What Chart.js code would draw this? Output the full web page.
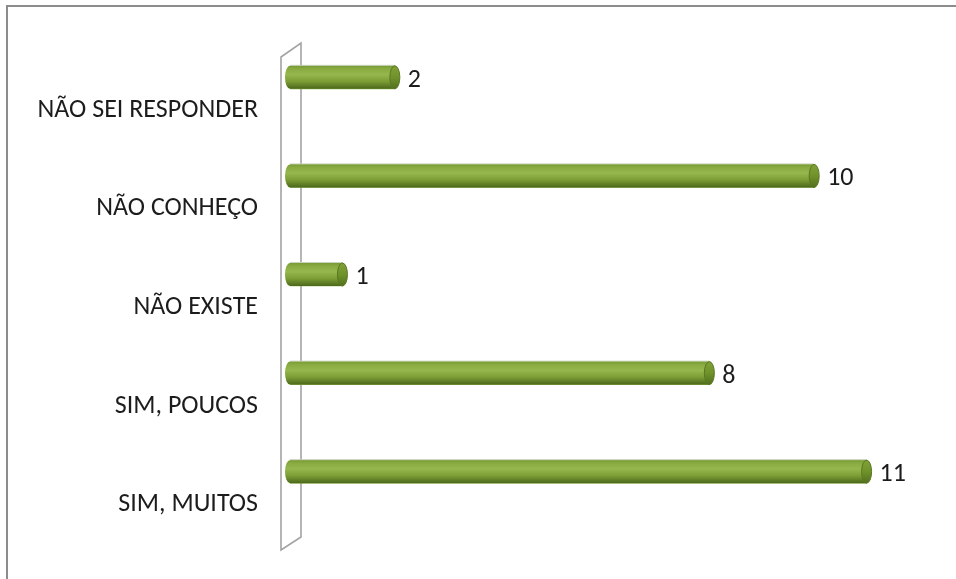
<!DOCTYPE html>
<html>
<head>
<meta charset="utf-8">
<script src="https://cdn.jsdelivr.net/npm/chart.js@4"></script>
<style>
  html, body { margin: 0; padding: 0; background: #ffffff; }
  canvas { display: block; }
</style>
</head>
<body>
<canvas id="chart" width="956" height="579"></canvas>
<script>
// Survey answers, listed top to bottom
const categories = ['NÃO SEI RESPONDER', 'NÃO CONHEÇO', 'NÃO EXISTE', 'SIM, POUCOS', 'SIM, MUITOS'];
const counts = [2, 10, 1, 8, 11];

const FONT = "'Carlito', 'Liberation Sans Narrow', 'Liberation Sans', sans-serif";
const FONT_SIZE = 26;
const CAP_RX = 5; // half-width of the cylinder end ellipses

// White page with the grey frame on top and left
const framePlugin = {
  id: 'frame',
  beforeDraw(chart) {
    const ctx = chart.ctx;
    ctx.save();
    ctx.fillStyle = '#ffffff';
    ctx.fillRect(0, 0, chart.width, chart.height);
    ctx.fillStyle = '#8c8c8c';
    ctx.fillRect(6, 5, chart.width - 6, 2);
    ctx.fillRect(6, 5, 2, chart.height - 5);
    ctx.restore();
  }
};

// Slanted 3D wall behind the bars
const wallPlugin = {
  id: 'wall',
  beforeDatasetsDraw(chart) {
    const { ctx, chartArea: a } = chart;
    const front = a.left - 9, back = a.left + 11;
    ctx.save();
    ctx.strokeStyle = '#a3a3a3';
    ctx.lineWidth = 1.6;
    ctx.beginPath();
    ctx.moveTo(front, a.top + 29);
    ctx.lineTo(back, a.top + 15);
    ctx.lineTo(back, a.bottom + 16);
    ctx.lineTo(front, a.bottom + 29);
    ctx.closePath();
    ctx.stroke();
    ctx.restore();
  }
};

function bodyGradient(ctx, top, bottom) {
  const g = ctx.createLinearGradient(0, top, 0, bottom);
  g.addColorStop(0, '#789a34');
  g.addColorStop(0.12, '#88aa41');
  g.addColorStop(0.38, '#96b74d');
  g.addColorStop(0.68, '#7c9c35');
  g.addColorStop(1, '#4b681b');
  return g;
}

// Cylinder shading, end caps and value labels on top of each library bar
const cylinderPlugin = {
  id: 'cylinder',
  afterDatasetsDraw(chart) {
    const ctx = chart.ctx;
    const meta = chart.getDatasetMeta(0);
    const data = chart.data.datasets[0].data;
    meta.data.forEach((bar, i) => {
      const h = bar.height;
      const top = bar.y - h / 2, bottom = bar.y + h / 2;
      const x0 = bar.base, x1 = bar.x;
      ctx.save();
      // body with rounded left end
      ctx.fillStyle = bodyGradient(ctx, top, bottom);
      ctx.beginPath();
      ctx.moveTo(x1, top);
      ctx.lineTo(x0, top);
      ctx.ellipse(x0, bar.y, CAP_RX, h / 2, 0, -Math.PI / 2, Math.PI / 2, true);
      ctx.lineTo(x1, bottom);
      ctx.closePath();
      ctx.fill();
      // thin light rim along the top
      ctx.strokeStyle = 'rgba(200,208,190,0.9)';
      ctx.lineWidth = 1;
      ctx.beginPath();
      ctx.moveTo(x0, top - 0.5);
      ctx.lineTo(x1, top - 0.5);
      ctx.stroke();
      // right end face
      const cg = ctx.createLinearGradient(0, top, 0, bottom);
      cg.addColorStop(0, '#7fa137');
      cg.addColorStop(0.5, '#70922b');
      cg.addColorStop(1, '#52701d');
      ctx.fillStyle = cg;
      ctx.beginPath();
      ctx.ellipse(x1, bar.y, CAP_RX, h / 2, 0, 0, Math.PI * 2);
      ctx.fill();
      ctx.strokeStyle = '#5a7822';
      ctx.lineWidth = 1;
      ctx.stroke();
      // value label
      ctx.fillStyle = '#1c1c1c';
      ctx.font = FONT_SIZE + 'px ' + FONT;
      ctx.textAlign = 'left';
      ctx.textBaseline = 'middle';
      ctx.fillText(String(data[i]), x1 + CAP_RX + 8, bar.y + 3);
      ctx.restore();
    });
  }
};

new Chart(document.getElementById('chart'), {
  type: 'bar',
  data: {
    labels: categories,
    datasets: [{
      data: counts,
      backgroundColor: '#8aad40',
      borderWidth: 0,
      barThickness: 23
    }]
  },
  options: {
    indexAxis: 'y',
    responsive: false,
    animation: false,
    layout: { padding: { left: 6, top: 28, bottom: 58, right: 37 } },
    plugins: {
      legend: { display: false },
      tooltip: { enabled: false }
    },
    scales: {
      x: {
        display: false,
        min: 0,
        max: 12
      },
      y: {
        grid: { display: false, drawTicks: false },
        border: { display: false },
        afterFit(scale) {
          scale.width = 284;
          scale.paddingTop = 0;
          scale.paddingBottom = 0;
        },
        ticks: {
          color: '#1c1c1c',
          font: { family: FONT, size: FONT_SIZE },
          padding: 32,
          labelOffset: 33
        }
      }
    }
  },
  plugins: [framePlugin, wallPlugin, cylinderPlugin]
});
</script>
</body>
</html>
